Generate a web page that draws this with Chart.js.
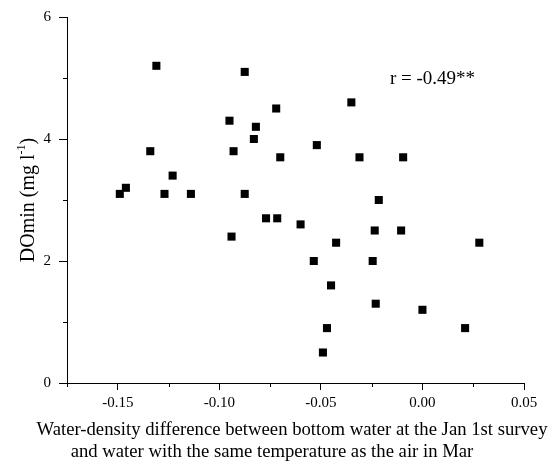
<!DOCTYPE html>
<html>
<head>
<meta charset="utf-8">
<script src="https://cdn.jsdelivr.net/npm/chart.js@4/dist/chart.umd.min.js"></script>
<style>
  body { margin: 0; background: #fff; }
  #wrap { width: 556px; height: 464px; }
</style>
</head>
<body>
<div id="wrap"><canvas id="myChart" width="556" height="464"></canvas></div>
<script>
// water-density difference (x) and DOmin (y)
var densityDiff = [-0.149, -0.146, -0.134, -0.131, -0.127, -0.123, -0.114, -0.095, -0.093, -0.094,
                   -0.0875, -0.0875, -0.083, -0.082, -0.077, -0.072, -0.0715, -0.070, -0.060, -0.0535,
                   -0.052, -0.049, -0.047, -0.045, -0.0425, -0.035, -0.031, -0.0245, -0.0235, -0.023,
                   -0.0215, -0.0105, -0.0095, 0.000, 0.021, 0.028];
var doMin = [3.1, 3.2, 3.8, 5.2, 3.1, 3.4, 3.1, 4.3, 3.8, 2.4,
             5.1, 3.1, 4.0, 4.2, 2.7, 4.5, 2.7, 3.7, 2.6, 2.0,
             3.9, 0.5, 0.9, 1.6, 2.3, 4.6, 3.7, 2.0, 2.5, 1.3,
             3.0, 2.5, 3.7, 1.2, 0.9, 2.3];

var xTitle = ['Water-density difference between bottom water at the Jan 1st survey',
              'and water with the same temperature as the air in Mar'];
var yTitle = 'DOmin (mg l';
var rLabel = 'r = -0.49**';

var serif = "'Liberation Serif', 'Times New Roman', serif";

var points = [];
for (var i = 0; i < densityDiff.length; i++) {
  points.push({x: densityDiff[i], y: doMin[i]});
}

function isMajor(v, step) {
  return Math.abs(Math.round(v / step) * step - v) < 1e-9;
}

// titles, r value and short minor ticks
var extras = {
  id: 'extras',
  afterDraw: function(chart) {
    var ctx = chart.ctx;
    var area = chart.chartArea;
    var xs = chart.scales.x, ys = chart.scales.y;
    ctx.save();
    ctx.strokeStyle = '#000';
    ctx.lineWidth = 1;
    ctx.beginPath();
    xs.ticks.forEach(function(t) {
      if (!isMajor(t.value, 0.05)) {
        var px = Math.round(xs.getPixelForValue(t.value)) + 0.5;
        ctx.moveTo(px, area.bottom);
        ctx.lineTo(px, area.bottom + 4);
      }
    });
    ys.ticks.forEach(function(t) {
      if (!isMajor(t.value, 2)) {
        var py = Math.round(ys.getPixelForValue(t.value)) + 0.5;
        ctx.moveTo(area.left, py);
        ctx.lineTo(area.left - 4, py);
      }
    });
    ctx.stroke();

    ctx.fillStyle = '#000';
    ctx.font = '18.7px ' + serif;
    ctx.textBaseline = 'middle';
    ctx.textAlign = 'center';
    ctx.fillText(xTitle[0], area.left + 225, area.bottom + 47);
    ctx.fillText(xTitle[1], area.left + 205, area.bottom + 69);

    // y title with superscript
    ctx.save();
    ctx.translate(29, (area.top + area.bottom) / 2);
    ctx.rotate(-Math.PI / 2);
    ctx.font = '20px ' + serif;
    var w1 = ctx.measureText(yTitle).width;
    ctx.font = '12px ' + serif;
    var w2 = ctx.measureText('-1').width;
    ctx.font = '20px ' + serif;
    var w3 = ctx.measureText(')').width;
    var start = -(w1 + w2 + w3) / 2;
    ctx.textAlign = 'left';
    ctx.fillText(yTitle, start, 0);
    ctx.font = '12px ' + serif;
    ctx.fillText('-1', start + w1, -7);
    ctx.font = '20px ' + serif;
    ctx.fillText(')', start + w1 + w2, 0);
    ctx.restore();

    ctx.font = '19px ' + serif;
    ctx.textAlign = 'left';
    ctx.fillText(rLabel, xs.getPixelForValue(-0.016), ys.getPixelForValue(4.98));
    ctx.restore();
  }
};

var chart = new Chart(document.getElementById('myChart').getContext('2d'), {
  type: 'scatter',
  data: {
    datasets: [{
      data: points,
      pointStyle: 'rect',
      pointRadius: 5.7,
      backgroundColor: '#000',
      borderWidth: 0
    }]
  },
  options: {
    responsive: false,
    animation: false,
    events: [],
    layout: { padding: { top: 16, right: 32, left: 0, bottom: 0 } },
    plugins: { legend: { display: false }, tooltip: { enabled: false } },
    scales: {
      x: {
        type: 'linear',
        min: -0.175,
        max: 0.05,
        afterFit: function(scale) { scale.height = 81; },
        border: { color: '#000', width: 1 },
        grid: {
          drawOnChartArea: false,
          tickLength: 7,
          tickColor: function(c) { return isMajor(c.tick.value, 0.05) ? '#000' : 'rgba(0,0,0,0)'; }
        },
        ticks: {
          stepSize: 0.025,
          autoSkip: false,
          maxRotation: 0,
          padding: 4,
          color: '#000',
          font: { family: serif, size: 15 },
          callback: function(v) { return isMajor(v, 0.05) ? (Math.round(v * 100) / 100).toFixed(2) : ''; }
        }
      },
      y: {
        min: 0,
        max: 6,
        afterFit: function(scale) { scale.width = 67; },
        border: { color: '#000', width: 1 },
        grid: {
          drawOnChartArea: false,
          tickLength: 8,
          tickColor: function(c) { return isMajor(c.tick.value, 2) ? '#000' : 'rgba(0,0,0,0)'; }
        },
        ticks: {
          stepSize: 1,
          padding: 8,
          color: '#000',
          font: { family: serif, size: 15 },
          callback: function(v) { return isMajor(v, 2) ? String(Math.round(v)) : ''; }
        }
      }
    }
  },
  plugins: [extras]
});
</script>
</body>
</html>
